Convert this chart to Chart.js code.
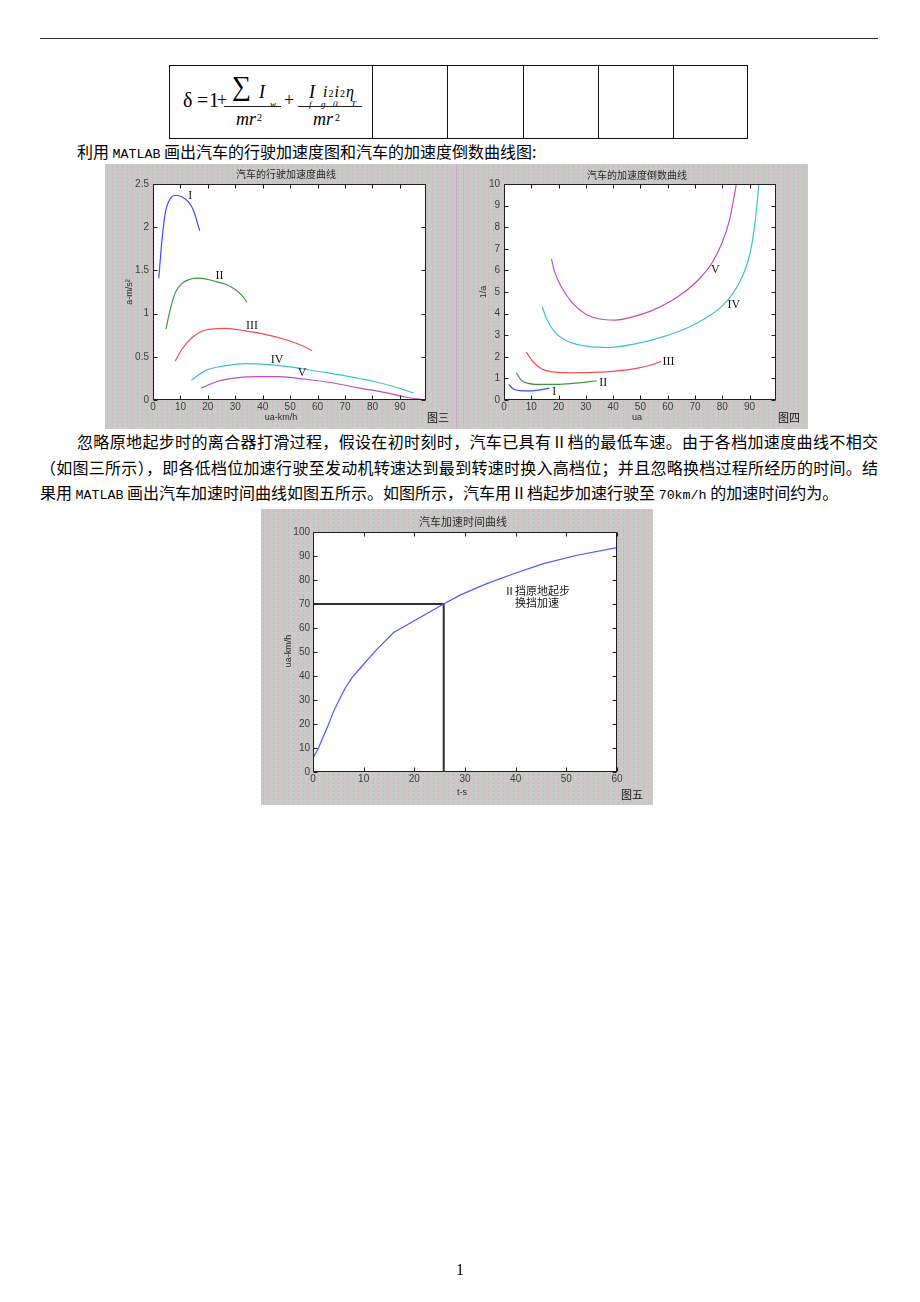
<!DOCTYPE html>
<html>
<head>
<meta charset="utf-8">
<script src="https://cdn.jsdelivr.net/npm/chart.js@4.4.0/dist/chart.umd.min.js"></script>
<style>
  body { margin: 0; background: #fff; width: 920px; height: 1302px; position: relative; overflow: hidden; font-family: "Noto Sans CJK SC"; color: #000; }
  .abs { position: absolute; }
  .panel { position: absolute; background-color: #c9cac6;
    background-image: radial-gradient(circle, rgba(215,150,215,.55) 0.6px, transparent 0.9px);
    background-size: 5px 4px; }
  .panel canvas { position: absolute; left: 0; top: 0; }
  .line { position: absolute; font-size: 16px; line-height: 20px; height: 20px; white-space: nowrap; }
  .just { text-align: justify; text-align-last: justify; white-space: normal; }
  .mono { font-family: "Liberation Mono"; font-size: 13.3px; }
  .f { position: absolute; font-family: "Liberation Serif"; line-height: 1; white-space: nowrap; }
  .it { font-style: italic; }
  .cell { position: absolute; top: 65px; width: 1px; height: 74px; background: #111; }
  .bar { position: absolute; height: 1px; background: #222; top: 106px; }
</style>
</head>
<body>

<div class="abs" style="left:40px;top:38px;width:838px;height:1px;background:#333;"></div>

<!-- table row with the formula -->
<div class="abs" style="left:169px;top:65px;width:577px;height:72px;border:1px solid #111;"></div>
<div class="cell" style="left:372px"></div>
<div class="cell" style="left:447px"></div>
<div class="cell" style="left:523px"></div>
<div class="cell" style="left:598px"></div>
<div class="cell" style="left:673px"></div>

<span class="f" style="left:183px;top:90px;font-size:20px;">δ</span>
<span class="f" style="left:197px;top:90px;font-size:20px;">=</span>
<span class="f" style="left:209px;top:90px;font-size:20px;">1</span>
<span class="f" style="left:217px;top:91px;font-size:18px;">+</span>
<span class="f" style="left:232px;top:73px;font-size:27px;">∑</span>
<span class="f it" style="left:259px;top:83px;font-size:18px;">I</span>
<span class="f it" style="left:270px;top:100px;font-size:9px;">w</span>
<div class="bar" style="left:224px;width:57px;"></div>
<span class="f it" style="left:236px;top:110px;font-size:18px;">mr</span>
<span class="f" style="left:257px;top:113px;font-size:10px;">2</span>
<span class="f" style="left:284px;top:91px;font-size:18px;">+</span>
<span class="f it" style="left:309px;top:83px;font-size:18px;">I</span>
<span class="f it" style="left:323px;top:84px;font-size:16px;letter-spacing:1px;">i<span style="font-size:10px;font-style:normal">2</span>i<span style="font-size:10px;font-style:normal">2</span>η</span>
<span class="f it" style="left:309px;top:100px;font-size:9px;">f</span>
<span class="f it" style="left:321px;top:100px;font-size:9px;">g</span>
<span class="f it" style="left:333px;top:100px;font-size:9px;">0</span>
<span class="f it" style="left:351px;top:100px;font-size:9px;">T</span>
<div class="bar" style="left:298px;width:64px;"></div>
<span class="f it" style="left:313px;top:110px;font-size:18px;">mr</span>
<span class="f" style="left:335px;top:113px;font-size:10px;">2</span>

<div class="line" style="left:77px;top:141px;">利用 <span class="mono">MATLAB</span> 画出汽车的行驶加速度图和汽车的加速度倒数曲线图:</div>

<div class="panel" style="left:105px;top:164px;width:351px;height:265px;"><canvas id="accChart" width="351" height="265"></canvas></div>
<div class="panel" style="left:456px;top:164px;width:352px;height:265px;"><canvas id="invChart" width="352" height="265"></canvas></div>
<div class="abs" style="left:456px;top:164px;width:1px;height:265px;background:#c7aac7;"></div>

<div class="line just" style="left:77px;top:431px;width:801px;">忽略原地起步时的离合器打滑过程，假设在初时刻时，汽车已具有Ⅱ档的最低车速。由于各档加速度曲线不相交</div>
<div class="line just" style="left:40px;top:457px;width:838px;">（如图三所示），即各低档位加速行驶至发动机转速达到最到转速时换入高档位；并且忽略换档过程所经历的时间。结</div>
<div class="line" style="left:40px;top:482px;">果用 <span class="mono">MATLAB</span> 画出汽车加速时间曲线如图五所示。如图所示，汽车用Ⅱ档起步加速行驶至 <span class="mono">70km/h</span> 的加速时间约为。</div>

<div class="panel" style="left:261px;top:509px;width:392px;height:296px;"><canvas id="timeChart" width="392" height="296"></canvas></div>

<div class="f" style="left:456px;top:1262px;font-size:16px;">1</div>

<script>
// ---- figure 3: driving acceleration per gear (ua km/h, a m/s^2) ----
const gear1Speed = [2.1, 3.3, 4.5, 6.3, 8.4, 10.6, 13.0, 14.8, 17.0];
const gear1Acc   = [1.41, 1.86, 2.17, 2.33, 2.37, 2.35, 2.29, 2.19, 1.96];
const gear2Speed = [4.7, 6.3, 8.1, 10.6, 13.2, 16.2, 19.5, 23.0, 26.4, 30.0, 32.4, 34.3];
const gear2Acc   = [0.82, 1.05, 1.24, 1.35, 1.395, 1.41, 1.40, 1.37, 1.34, 1.28, 1.21, 1.13];
const gear3Speed = [8.1, 10.6, 14.2, 19.1, 26.4, 33.7, 40.9, 48.2, 54.3, 58.0];
const gear3Acc   = [0.45, 0.59, 0.72, 0.81, 0.83, 0.80, 0.76, 0.70, 0.63, 0.57];
const gear4Speed = [14.0, 19.1, 25.2, 33.7, 42.2, 50.7, 60.4, 70.1, 79.8, 88.3, 95.0];
const gear4Acc   = [0.23, 0.34, 0.39, 0.42, 0.41, 0.38, 0.33, 0.28, 0.22, 0.15, 0.08];
const gear5Speed = [17.6, 23.9, 31.2, 38.5, 45.8, 55.5, 65.2, 74.9, 84.7, 92.0, 99.3];
const gear5Acc   = [0.14, 0.22, 0.26, 0.27, 0.27, 0.24, 0.20, 0.14, 0.085, 0.035, 0.0];

// ---- figure 4: inverse of acceleration (1/a) ----
const inv1Speed = [1.8, 3.3, 5.8, 8.8, 12.5, 16.6];
const inv1Val   = [0.72, 0.52, 0.43, 0.42, 0.46, 0.55];
const inv2Speed = [4.5, 6.4, 9.4, 13.7, 18.6, 23.5, 28.4, 34.0];
const inv2Val   = [1.26, 0.91, 0.76, 0.72, 0.72, 0.75, 0.80, 0.89];
const inv3Speed = [8.2, 10.7, 13.7, 18.6, 24.8, 33.3, 40.7, 48.1, 54.2, 57.6];
const inv3Val   = [2.22, 1.76, 1.45, 1.29, 1.26, 1.28, 1.34, 1.45, 1.63, 1.79];
const inv4Speed = [14.0, 15.6, 18.6, 23.5, 30.9, 38.3, 48.1, 57.9, 67.7, 74.0, 79.5, 84.0, 87.5, 90.2, 92.0, 93.4];
const inv4Val   = [4.33, 3.76, 3.14, 2.71, 2.48, 2.43, 2.60, 2.91, 3.37, 3.80, 4.30, 4.95, 5.75, 6.80, 8.20, 9.95];
const inv5Speed = [17.4, 18.6, 21.1, 24.8, 29.7, 34.6, 40.7, 46.8, 54.2, 61.5, 67.0, 72.0, 76.5, 80.0, 82.8, 85.1];
const inv5Val   = [6.53, 5.92, 5.22, 4.53, 3.99, 3.76, 3.70, 3.84, 4.14, 4.61, 5.08, 5.66, 6.40, 7.30, 8.40, 9.95];

// ---- figure 5: acceleration time (t s, ua km/h) ----
const accelTime  = [0, 1.1, 2.8, 4.1, 5.4, 6.4, 7.7, 10.0, 12.6, 15.9, 19.9, 25.7, 29.1, 34.3, 39.6, 45.5, 52.1, 60];
const accelSpeed = [5.7, 10.1, 18.5, 25.4, 31.0, 35.1, 39.3, 44.9, 51.1, 58.1, 62.9, 69.9, 73.8, 78.5, 82.6, 86.8, 90.3, 93.5];
const markTime  = [0, 25.8, 25.8];
const markSpeed = [70, 70, 0];

// tick labels
const accTicksX  = [0, 10, 20, 30, 40, 50, 60, 70, 80, 90];
const accTicksY  = [0, 0.5, 1, 1.5, 2, 2.5];
const invTicksY  = [0, 1, 2, 3, 4, 5, 6, 7, 8, 9, 10];
const timeTicksX = [0, 10, 20, 30, 40, 50, 60];
const timeTicksY = [0, 10, 20, 30, 40, 50, 60, 70, 80, 90, 100];

// gear names and where they were written on the curves (data units)
const gearNames = ['I', 'II', 'III', 'IV', 'V'];
const accNameSpeed = [13.6, 24.2, 36.1, 45.2, 54.3];
const accNameAcc   = [2.36, 1.44, 0.86, 0.47, 0.32];
const invNameSpeed = [18.4, 36.4, 60.3, 84.2, 77.5];
const invNameVal   = [0.40, 0.80, 1.76, 4.41, 6.04];

const gearColors = ['#4646f6', '#3c963c', '#f24c4c', '#3cc4c4', '#c24ac2'];

const pts = (xs, ys) => xs.map((x, i) => ({ x, y: ys[i] }));

function curve(xs, ys, color, smooth) {
    return {
        data: pts(xs, ys),
        borderColor: color,
        borderWidth: 1.2,
        pointRadius: 0,
        fill: false,
        tension: smooth ? 0.4 : 0,
        cubicInterpolationMode: smooth ? 'monotone' : 'default'
    };
}

// MATLAB-like axes box: white plot area, inward ticks on all sides, labels
function matlabFrame(cfg) {
    return {
        id: 'matlabFrame',
        beforeDraw(chart) {
            const { ctx, chartArea: a } = chart;
            ctx.save();
            ctx.fillStyle = '#fff';
            ctx.fillRect(a.left, a.top, a.right - a.left, a.bottom - a.top);
            ctx.restore();
        },
        afterDraw(chart) {
            const { ctx, chartArea: a } = chart;
            const x = chart.scales.x, y = chart.scales.y;
            ctx.save();
            ctx.strokeStyle = '#1e1e1e';
            ctx.lineWidth = 1;
            const L = Math.round(a.left) + 0.5, R = Math.round(a.right) - 0.5;
            const T = Math.round(a.top) + 0.5, B = Math.round(a.bottom) - 0.5;
            ctx.strokeRect(L, T, R - L, B - T);
            ctx.beginPath();
            x.ticks.forEach(t => {
                const p = Math.round(x.getPixelForValue(t.value)) + 0.5;
                ctx.moveTo(p, B); ctx.lineTo(p, B - 4);
                ctx.moveTo(p, T); ctx.lineTo(p, T + 4);
            });
            y.ticks.forEach(t => {
                const p = Math.round(y.getPixelForValue(t.value)) + 0.5;
                ctx.moveTo(L, p); ctx.lineTo(L + 4, p);
                ctx.moveTo(R, p); ctx.lineTo(R - 4, p);
            });
            ctx.stroke();

            ctx.textAlign = 'center';
            ctx.textBaseline = 'middle';
            // text written inside the axes, in data units
            (cfg.marks || []).forEach(m => {
                ctx.font = m.font;
                ctx.fillStyle = '#151515';
                ctx.fillText(m.text, x.getPixelForValue(m.x), y.getPixelForValue(m.y));
            });
            // title, axis labels, figure number
            cfg.texts.forEach(t => {
                ctx.save();
                ctx.font = t.font;
                ctx.fillStyle = t.color || '#2a2a2a';
                ctx.translate(t.x, t.y);
                if (t.rot) ctx.rotate(t.rot);
                ctx.fillText(t.s, 0, 0);
                ctx.restore();
            });
            ctx.restore();
        }
    };
}

const tickFont = { family: 'Liberation Sans', size: 10 };
const cjk = '"Noto Sans CJK SC"';

function makeChart(id, datasets, xr, yr, box, cfg) {
    return new Chart(document.getElementById(id), {
        type: 'line',
        data: { datasets },
        options: {
            responsive: false,
            animation: false,
            devicePixelRatio: 1,
            layout: { padding: { left: 0, top: box.top, right: box.right, bottom: 0 } },
            plugins: { legend: { display: false }, tooltip: { enabled: false } },
            scales: {
                x: {
                    type: 'linear', min: 0, max: xr.max,
                    grid: { display: false, drawTicks: false },
                    border: { display: false },
                    afterBuildTicks: s => { s.ticks = xr.ticks.map(v => ({ value: v })); },
                    afterFit: s => { s.height = box.bottom; },
                    ticks: { autoSkip: false, maxRotation: 0, padding: box.xPad, font: tickFont, color: '#3c3c3c', callback: v => String(v) }
                },
                y: {
                    type: 'linear', min: 0, max: yr.max,
                    grid: { display: false, drawTicks: false },
                    border: { display: false },
                    afterBuildTicks: s => { s.ticks = yr.ticks.map(v => ({ value: v })); },
                    afterFit: s => { s.width = box.left; },
                    ticks: { autoSkip: false, padding: box.yPad, font: tickFont, color: '#3c3c3c', callback: v => String(v) }
                }
            }
        },
        plugins: [matlabFrame(cfg)]
    });
}

document.addEventListener('DOMContentLoaded', () => {
    // figure 3
    const accSeries = [[gear1Speed, gear1Acc], [gear2Speed, gear2Acc], [gear3Speed, gear3Acc], [gear4Speed, gear4Acc], [gear5Speed, gear5Acc]];
    makeChart('accChart',
        accSeries.map((s, i) => curve(s[0], s[1], gearColors[i], true)),
        { max: 99.5, ticks: accTicksX }, { max: 2.5, ticks: accTicksY },
        { left: 48, top: 20, right: 30, bottom: 29, xPad: 1, yPad: 4 },
        {
            marks: gearNames.map((n, i) => ({ text: n, x: accNameSpeed[i], y: accNameAcc[i], font: '12px "Liberation Serif"' })),
            texts: [
                { s: '汽车的行驶加速度曲线', x: 181, y: 10, font: '10px ' + cjk },
                { s: 'ua-km/h', x: 176, y: 254, font: '9px "Liberation Sans"' },
                { s: 'a-m/s²', x: 25, y: 128, rot: -Math.PI / 2, font: '9px "Liberation Sans"' },
                { s: '图三', x: 333, y: 254, font: '11px ' + cjk, color: '#111' }
            ]
        });

    // figure 4
    const invSeries = [[inv1Speed, inv1Val], [inv2Speed, inv2Val], [inv3Speed, inv3Val], [inv4Speed, inv4Val], [inv5Speed, inv5Val]];
    makeChart('invChart',
        invSeries.map((s, i) => curve(s[0], s[1], gearColors[i], true)),
        { max: 99.7, ticks: accTicksX }, { max: 10, ticks: invTicksY },
        { left: 48, top: 20, right: 32, bottom: 29, xPad: 1, yPad: 4 },
        {
            marks: gearNames.map((n, i) => ({ text: n, x: invNameSpeed[i], y: invNameVal[i], font: '12px "Liberation Serif"' })),
            texts: [
                { s: '汽车的加速度倒数曲线', x: 181, y: 11, font: '10px ' + cjk },
                { s: 'ua', x: 181, y: 254, font: '9px "Liberation Sans"' },
                { s: '1/a', x: 28, y: 128, rot: -Math.PI / 2, font: '9px "Liberation Sans"' },
                { s: '图四', x: 333, y: 254, font: '11px ' + cjk, color: '#111' }
            ]
        });

    // figure 5
    makeChart('timeChart',
        [curve(accelTime, accelSpeed, '#5555f8', false),
         Object.assign(curve(markTime, markSpeed, '#2e2e2e', false), { borderWidth: 2 })],
        { max: 60, ticks: timeTicksX }, { max: 100, ticks: timeTicksY },
        { left: 52, top: 23, right: 36, bottom: 33, xPad: 1, yPad: 3 },
        {
            marks: [
                { text: 'Ⅱ挡原地起步', x: 44.2, y: 75.7, font: '11px ' + cjk },
                { text: '换挡加速', x: 44.2, y: 70.6, font: '11px ' + cjk }
            ],
            texts: [
                { s: '汽车加速时间曲线', x: 202, y: 13, font: '11px ' + cjk },
                { s: 't-s', x: 201, y: 284, font: '9px "Liberation Sans"' },
                { s: 'ua-km/h', x: 28, y: 142, rot: -Math.PI / 2, font: '9px "Liberation Sans"' },
                { s: '图五', x: 371, y: 286, font: '11px ' + cjk, color: '#111' }
            ]
        });
});
</script>
</body>
</html>
